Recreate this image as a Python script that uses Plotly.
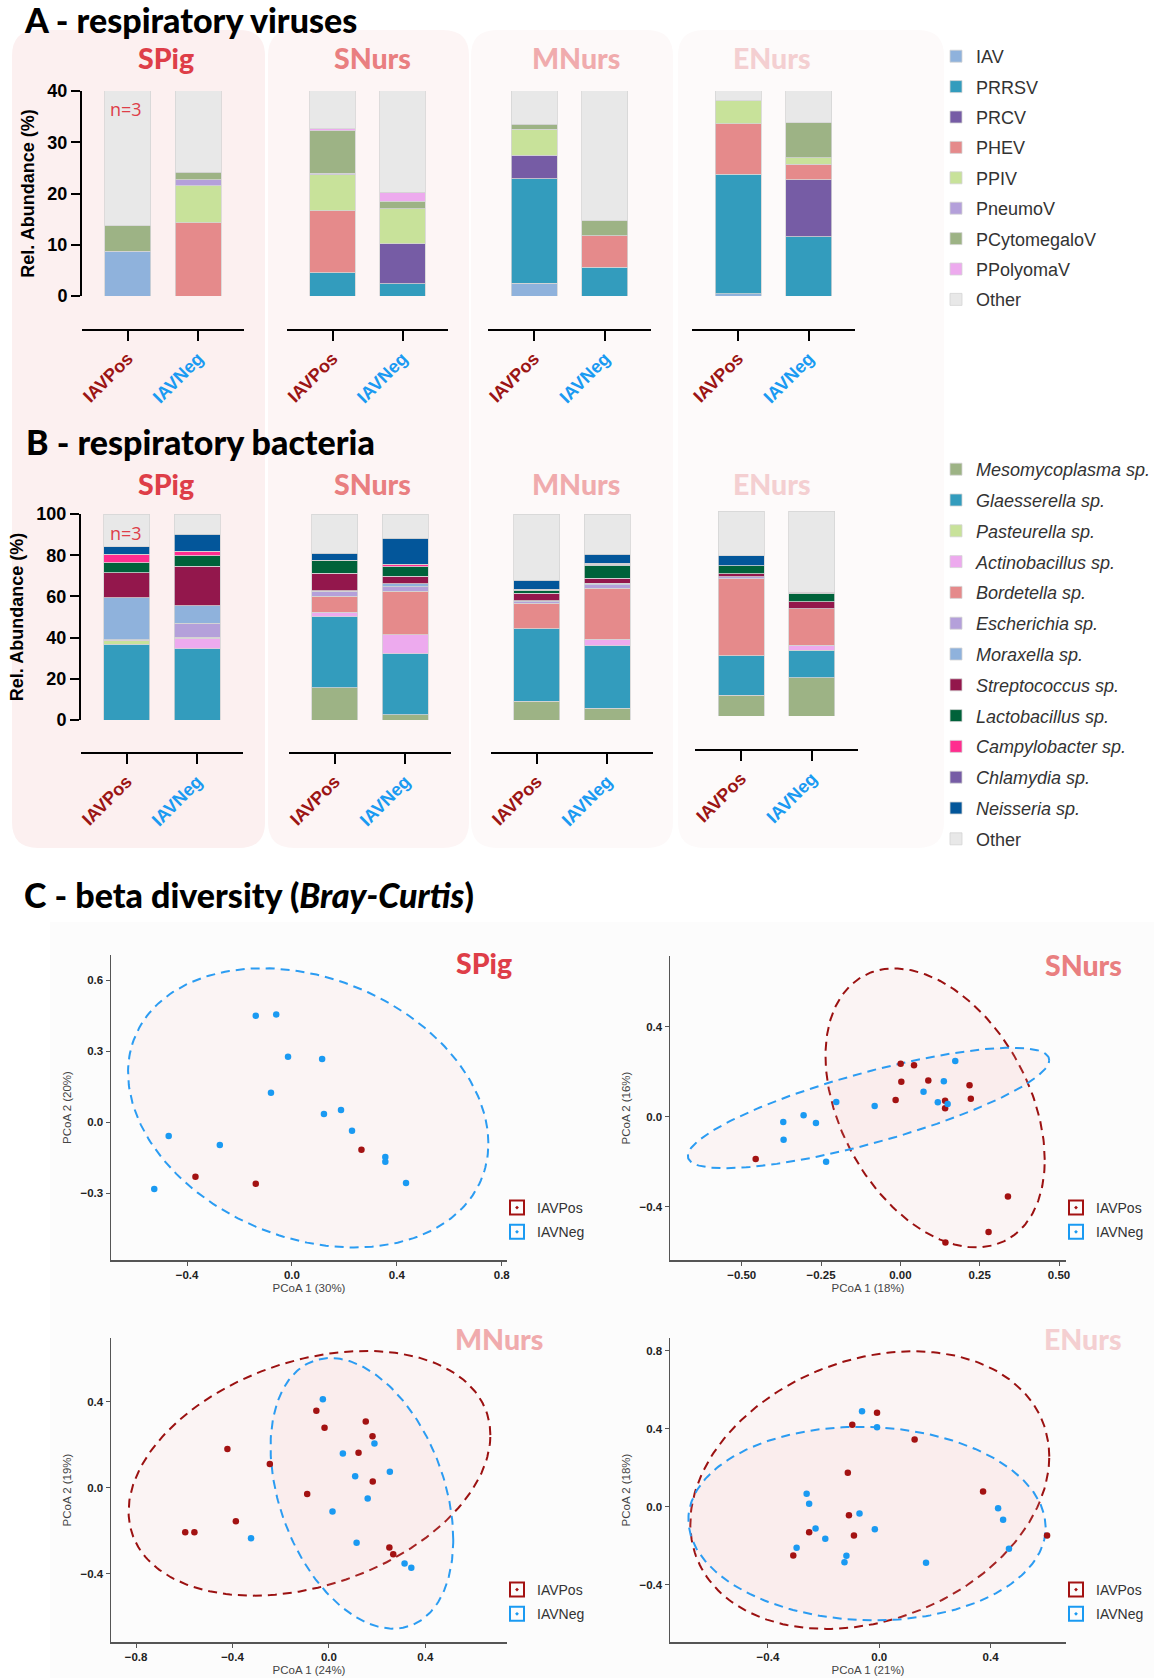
import numpy as np
import plotly.graph_objects as go

W, H = 1154, 1678
ARIAL = "Liberation Sans, Arial, sans-serif"
HEAD = "Lato, Roboto, sans-serif"

groups = ["IAVPos", "IAVNeg"]
sites = ["SPig", "SNurs", "MNurs", "ENurs"]
site_colors = ["#de3e48", "#e97f80", "#f0abad", "#f4cfd1"]
group_colors = ["#9b1414", "#1a9af2"]

# ---- Panel A: respiratory viruses (% rel. abundance)
# bar order: SPig+, SPig-, SNurs+, SNurs-, MNurs+, MNurs-, ENurs+, ENurs-
IAV = [8.7, 0, 0, 0, 2.5, 0, 0.4, 0]
PRRSV = [0, 0, 4.5, 2.4, 20.4, 5.6, 23.4, 11.6]
PRCV = [0, 0, 0, 7.8, 4.6, 0, 0, 11.1]
PHEV = [0, 14.3, 12.1, 0, 0, 6.2, 9.8, 3.0]
PPIV = [0, 7.2, 7.1, 6.8, 5.0, 0, 4.5, 1.3]
PneumoV = [0, 1.2, 0.3, 0, 0, 0, 0, 0]
PCytomegaloV = [5.0, 1.4, 8.2, 1.5, 1.0, 2.9, 0, 6.8]
PPolyomaV = [0, 0, 0.4, 1.7, 0, 0, 0, 0]
virus_names = ["IAV", "PRRSV", "PRCV", "PHEV", "PPIV", "PneumoV",
               "PCytomegaloV", "PPolyomaV", "Other"]
virus_colors = ["#8fb2dc", "#339cbd", "#765ca5", "#e58a8b", "#c8e29a",
                "#b4a0da", "#9db385", "#edaaee", "#e8e8e8"]

# ---- Panel B: respiratory bacteria (% rel. abundance)
Mesomycoplasma = [0, 0, 15.7, 2.6, 9.2, 5.7, 10.2, 18.6]
Glaesserella = [36.8, 34.7, 34.5, 29.5, 35.2, 30.4, 19.1, 13.5]
Pasteurella = [1.6, 0, 0, 0, 0, 0, 0, 0]
Actinobacillus = [0.5, 5.0, 2.2, 9.2, 0, 3.0, 0, 2.3]
Bordetella = [0, 0.5, 7.6, 21.1, 12.3, 24.9, 37.6, 18.0]
Escherichia = [0, 6.8, 2.4, 2.4, 0.8, 1.6, 1.0, 0]
Moraxella = [20.5, 8.4, 0.3, 1.3, 0.5, 0.8, 0, 0]
Streptococcus = [12.2, 19.2, 8.6, 3.6, 3.6, 2.3, 1.5, 3.4]
Lactobacillus = [4.7, 5.1, 6.0, 4.7, 1.3, 6.5, 3.8, 4.2]
Campylobacter = [4.2, 2.0, 0.3, 1.3, 0, 0.5, 0, 0.4]
Chlamydia = [0, 0.3, 0, 0, 0.5, 0.3, 0, 0]
Neisseria = [3.6, 8.1, 3.4, 12.6, 4.4, 4.5, 4.9, 0]
bact_names = ["Mesomycoplasma sp.", "Glaesserella sp.", "Pasteurella sp.",
              "Actinobacillus sp.", "Bordetella sp.", "Escherichia sp.",
              "Moraxella sp.", "Streptococcus sp.", "Lactobacillus sp.",
              "Campylobacter sp.", "Chlamydia sp.", "Neisseria sp.", "Other"]
bact_colors = ["#9db385", "#339cbd", "#c8e29a", "#edaaee", "#e58a8b",
               "#b4a0da", "#8fb2dc", "#93174c", "#00623a", "#ff2d8f",
               "#765ca5", "#03569a", "#e8e8e8"]

# ---- Panel C: PCoA (Bray-Curtis) coordinates
SPig_pos_x = [0.265, -0.368, -0.138]
SPig_pos_y = [-0.117, -0.231, -0.261]
SPig_neg_x = [-0.138, -0.060, -0.015, 0.115, -0.080, 0.122, 0.187, 0.229,
              0.356, 0.356, 0.435, -0.470, -0.275, -0.525]
SPig_neg_y = [0.449, 0.455, 0.276, 0.266, 0.124, 0.034, 0.051, -0.037,
              -0.148, -0.168, -0.258, -0.059, -0.097, -0.283]
SNurs_pos_x = [0.001, 0.043, 0.003, 0.088, 0.218, -0.015, 0.141, 0.141,
               0.222, -0.456, 0.339, 0.278, 0.142]
SNurs_pos_y = [0.235, 0.228, 0.155, 0.160, 0.139, 0.074, 0.071, 0.037,
               0.080, -0.188, -0.354, -0.512, -0.558]
SNurs_neg_x = [0.173, 0.137, 0.073, 0.118, 0.149, -0.081, -0.202, -0.305,
               -0.369, -0.266, -0.368, -0.234]
SNurs_neg_y = [0.247, 0.157, 0.111, 0.064, 0.056, 0.047, 0.065, 0.006,
               -0.024, -0.028, -0.102, -0.200]
MNurs_pos_x = [-0.052, -0.018, 0.153, 0.181, 0.123, -0.421, -0.245, 0.182,
               -0.090, -0.386, -0.596, -0.558, 0.251, 0.267]
MNurs_pos_y = [0.357, 0.278, 0.307, 0.239, 0.162, 0.179, 0.110, 0.028,
               -0.029, -0.156, -0.207, -0.207, -0.278, -0.309]
MNurs_neg_x = [-0.025, 0.058, 0.189, 0.253, 0.109, 0.161, 0.015, -0.323,
               0.115, 0.314, 0.342]
MNurs_neg_y = [0.411, 0.158, 0.205, 0.074, 0.053, -0.051, -0.111, -0.235,
               -0.256, -0.352, -0.372]
ENurs_pos_x = [-0.008, -0.097, 0.127, -0.113, -0.109, -0.091, -0.252, -0.309,
               0.373, 0.603]
ENurs_pos_y = [0.481, 0.419, 0.344, 0.174, -0.044, -0.148, -0.131, -0.251,
               0.077, -0.148]
ENurs_neg_x = [-0.062, -0.008, -0.261, -0.252, -0.071, -0.229, -0.194, -0.016,
               -0.297, -0.118, -0.125, 0.168, 0.427, 0.445, 0.466]
ENurs_neg_y = [0.489, 0.407, 0.066, 0.015, -0.036, -0.112, -0.165, -0.116,
               -0.211, -0.252, -0.285, -0.288, -0.009, -0.068, -0.216]
# confidence ellipses: centre x, centre y, half-width, half-height, tilt
SPig_neg_ell = [0.062, 0.060, 0.687, 0.590, -0.254]
SNurs_pos_ell = [0.1095, 0.039, 0.3455, 0.619, -0.373]
SNurs_neg_ell = [-0.1005, 0.0385, 0.5695, 0.2675, 0.794]
MNurs_pos_ell = [-0.0805, 0.0665, 0.7505, 0.5685, 0.312]
MNurs_neg_ell = [0.137, -0.0265, 0.379, 0.6285, -0.343]
ENurs_pos_ell = [-0.034, 0.0845, 0.645, 0.7115, 0.241]
ENurs_neg_ell = [-0.044, -0.087, 0.642, 0.496, -0.04]
pcoa_x_titles = ["PCoA 1 (30%)", "PCoA 1 (18%)", "PCoA 1 (24%)", "PCoA 1 (21%)"]
pcoa_y_titles = ["PCoA 2 (20%)", "PCoA 2 (16%)", "PCoA 2 (19%)", "PCoA 2 (18%)"]

# ------------------------------------------------------------------
def px(v):
    return v / W


def py(v):
    return 1 - v / H


def xr(i):
    return "x" if i == 1 else f"x{i}"


def yr(i):
    return "y" if i == 1 else f"y{i}"


def xk(i):
    return "xaxis" if i == 1 else f"xaxis{i}"


def yk(i):
    return "yaxis" if i == 1 else f"yaxis{i}"


fig = go.Figure()
layout = {}

virus_series = [IAV, PRRSV, PRCV, PHEV, PPIV, PneumoV, PCytomegaloV, PPolyomaV]
virus_series = virus_series + [[100 - sum(v[i] for v in virus_series) for i in range(8)]]
bact_series = [Mesomycoplasma, Glaesserella, Pasteurella, Actinobacillus, Bordetella,
               Escherichia, Moraxella, Streptococcus, Lactobacillus, Campylobacter,
               Chlamydia, Neisseria]
bact_series = bact_series + [[100 - sum(v[i] for v in bact_series) for i in range(8)]]

ticktext = [f'<span style="color:{c}">{g}</span>' for g, c in zip(groups, group_colors)]

# geometry of bar panels (pixels)
A_x = [(82, 244), (287, 448), (488, 651), (692, 855)]
B_x = [(81, 243), (289, 451), (491, 653), (695, 858)]
A_y = [(91, 296, 330)] * 4
B_y = [(514, 720, 753), (514, 720, 753), (514, 720, 753), (511, 716, 750)]


def add_bar_panel(offset, names, series, colors, legend_id, prefix, xdoms, ydoms, ymax, dtick, italic):
    for s in range(4):
        ax = offset + s + 1
        for name, vals, col in zip(names, series, colors):
            yv = [vals[2 * s], vals[2 * s + 1]]
            yv = [v if v > 0 else None for v in yv]
            label = f"<i>{name}</i>" if (italic and name != "Other") else name
            fig.add_trace(go.Bar(
                x=groups, y=yv, name=label, width=0.65,
                marker=dict(color=col, line=dict(color="#d4d4d4", width=0.8)),
                xaxis=xr(ax), yaxis=yr(ax), legend=legend_id,
                legendgroup=prefix + name, showlegend=(s == 0), hoverinfo="skip"))
        x0, x1 = xdoms[s]
        ytop, ybot, yline = ydoms[s]
        layout[xk(ax)] = dict(
            domain=[px(x0), px(x1)], anchor="free", position=py(yline),
            type="category", categoryorder="array", categoryarray=groups,
            range=[-0.65, 1.65], showline=True, linecolor="black", linewidth=2,
            ticks="outside", ticklen=10, tickwidth=2, tickcolor="black",
            tickmode="array", tickvals=groups, ticktext=ticktext, tickangle=-45,
            tickfont=dict(family=ARIAL, size=18, weight="bold"),
            showgrid=False, zeroline=False, fixedrange=True, automargin=False)
        ya = dict(domain=[py(ybot), py(ytop)], anchor=xr(ax), range=[0, ymax],
                  showgrid=False, zeroline=False, fixedrange=True, automargin=False)
        if s == 0:
            ya.update(showline=True, linecolor="black", linewidth=2, ticks="outside",
                      ticklen=9, tickwidth=2, tickcolor="black",
                      tickvals=list(range(0, ymax + 1, dtick)),
                      tickfont=dict(family=ARIAL, size=18, weight="bold", color="black"),
                      title=dict(text="Rel. Abundance (%)", standoff=8,
                                 font=dict(family=ARIAL, size=18, weight="bold", color="black")))
        else:
            ya.update(visible=False)
        layout[yk(ax)] = ya


add_bar_panel(0, virus_names, virus_series, virus_colors, "legend", "v_", A_x, A_y, 40, 10, False)
add_bar_panel(4, bact_names, bact_series, bact_colors, "legend2", "b_", B_x, B_y, 100, 20, True)

# ---- Panel C scatter plots
C_dom = [((111, 507), (955, 1260)), ((670, 1066), (956, 1260)),
         ((111, 507), (1338, 1642)), ((670, 1066), (1338, 1642))]
C_xrange = [[-0.69, 0.82], [-0.726, 0.522], [-0.904, 0.739], [-0.752, 0.671]]
C_yrange = [[-0.583, 0.706], [-0.636, 0.713], [-0.717, 0.695], [-0.694, 0.864]]
C_xticks = [[-0.4, 0, 0.4, 0.8], [-0.5, -0.25, 0, 0.25, 0.5], [-0.8, -0.4, 0, 0.4], [-0.4, 0, 0.4]]
C_yticks = [[-0.3, 0, 0.3, 0.6], [-0.4, 0, 0.4], [-0.4, 0, 0.4], [-0.4, 0, 0.4, 0.8]]
C_xfmt = [".1f", ".2f", ".1f", ".1f"]
pts = [((SPig_pos_x, SPig_pos_y), (SPig_neg_x, SPig_neg_y)),
       ((SNurs_pos_x, SNurs_pos_y), (SNurs_neg_x, SNurs_neg_y)),
       ((MNurs_pos_x, MNurs_pos_y), (MNurs_neg_x, MNurs_neg_y)),
       ((ENurs_pos_x, ENurs_pos_y), (ENurs_neg_x, ENurs_neg_y))]
ells = [(None, SPig_neg_ell), (SNurs_pos_ell, SNurs_neg_ell),
        (MNurs_pos_ell, MNurs_neg_ell), (ENurs_pos_ell, ENurs_neg_ell)]
ell_line = ["#9b1111", "#2b9cf2"]
pt_col = ["#a31212", "#1a9af2"]
C_leg_pos = [(497, 1192), (1056, 1192), (497, 1574), (1056, 1574)]

t = np.linspace(0, 2 * np.pi, 240)
for s in range(4):
    ax = 9 + s
    lid = f"legend{3 + s}"
    for g in range(2):
        e = ells[s][g]
        if e is None:
            continue
        cx, cy, rx, ry, k = e
        phi = np.arccos(k)
        fig.add_trace(go.Scatter(
            x=cx + rx * np.cos(t), y=cy + ry * np.cos(t - phi), mode="lines",
            fill="toself", fillcolor="rgba(246,178,178,0.11)",
            line=dict(color=ell_line[g], width=2, dash="9px,6px"),
            xaxis=xr(ax), yaxis=yr(ax), showlegend=False, hoverinfo="skip"))
    for g in range(2):
        xs, ys = pts[s][g]
        fig.add_trace(go.Scatter(
            x=xs, y=ys, mode="markers", marker=dict(color=pt_col[g], size=6.5),
            xaxis=xr(ax), yaxis=yr(ax), showlegend=False, hoverinfo="skip"))
    for g in range(2):
        fig.add_trace(go.Scatter(
            x=[None], y=[None], mode="markers", name=groups[g],
            marker=dict(color=pt_col[g], size=14, symbol="square-open-dot",
                        line=dict(color=ell_line[g], width=2)),
            xaxis=xr(ax), yaxis=yr(ax), legend=lid,
            legendgroup=f"c{s}_{groups[g]}", showlegend=True))
    (x0, x1), (y0, y1) = C_dom[s]
    axfont = dict(family=ARIAL, size=11.5, weight="bold", color="#222")
    layout[xk(ax)] = dict(
        domain=[px(x0), px(x1)], anchor=yr(ax), range=C_xrange[s],
        showline=True, linecolor="#555", linewidth=1.5, ticks="outside", ticklen=4,
        tickcolor="#555", tickvals=C_xticks[s], tickformat=C_xfmt[s], tickfont=axfont,
        showgrid=False, zeroline=False, fixedrange=True, automargin=False,
        title=dict(text=pcoa_x_titles[s], standoff=3,
                   font=dict(family=ARIAL, size=11.5, color="#444")))
    layout[yk(ax)] = dict(
        domain=[py(y1), py(y0)], anchor=xr(ax), range=C_yrange[s],
        showline=True, linecolor="#555", linewidth=1.5, ticks="outside", ticklen=4,
        tickcolor="#555", tickvals=C_yticks[s], tickformat=".1f", tickfont=axfont,
        showgrid=False, zeroline=False, fixedrange=True, automargin=False,
        title=dict(text=pcoa_y_titles[s], standoff=6,
                   font=dict(family=ARIAL, size=11.5, color="#444")))
    lx, ly = C_leg_pos[s]
    layout[lid] = dict(x=px(lx), y=py(ly), xanchor="left", yanchor="top",
                       traceorder="grouped", tracegroupgap=3,
                       font=dict(family=ARIAL, size=14, color="#333"),
                       bgcolor="rgba(0,0,0,0)")

layout["legend"] = dict(x=px(936), y=py(38), xanchor="left", yanchor="top",
                        traceorder="grouped", tracegroupgap=4,
                        font=dict(family=ARIAL, size=18, color="#333"),
                        bgcolor="rgba(0,0,0,0)")
layout["legend2"] = dict(x=px(936), y=py(451), xanchor="left", yanchor="top",
                         traceorder="grouped", tracegroupgap=4.4,
                         font=dict(family=ARIAL, size=18, color="#333"),
                         bgcolor="rgba(0,0,0,0)")


# ---- background panels
def rrect(x0, y0, x1, y1, r):
    return (f"M {px(x0 + r)},{py(y0)} L {px(x1 - r)},{py(y0)} Q {px(x1)},{py(y0)} {px(x1)},{py(y0 + r)} "
            f"L {px(x1)},{py(y1 - r)} Q {px(x1)},{py(y1)} {px(x1 - r)},{py(y1)} "
            f"L {px(x0 + r)},{py(y1)} Q {px(x0)},{py(y1)} {px(x0)},{py(y1 - r)} "
            f"L {px(x0)},{py(y0 + r)} Q {px(x0)},{py(y0)} {px(x0 + r)},{py(y0)} Z")


panel_boxes = [(12, 30, 265, 848), (268, 30, 469, 848), (471, 30, 673, 848), (678, 30, 944, 848)]
panel_fill = ["#fcf0f0", "#fdf5f5", "#fdf9f9", "#fdfafa"]
shapes = [dict(type="path", path=rrect(*b, 26), xref="paper", yref="paper",
               fillcolor=c, line=dict(width=0), layer="below")
          for b, c in zip(panel_boxes, panel_fill)]
shapes.append(dict(type="rect", x0=px(50), x1=1, y0=0, y1=py(922), xref="paper", yref="paper",
                   fillcolor="#fcfcfc", line=dict(width=0), layer="below"))

# ---- annotations
ann = []
for text, x, y in [("A - respiratory viruses", 22, 20), ("B - respiratory bacteria", 24, 441),
                   ("C - beta diversity (<i>Bray-Curtis</i>)", 22, 894)]:
    ann.append(dict(text=text, x=px(x), y=py(y), xref="paper", yref="paper",
                    xanchor="left", yanchor="middle", showarrow=False,
                    font=dict(family=HEAD, size=34, weight=900, color="black")))
title_pos = [[(166, 58), (372, 58), (576, 58), (772, 58)],
             [(166, 484), (372, 484), (576, 484), (772, 484)],
             [(484, 963), (1083, 965), (499, 1339), (1083, 1339)]]
for row in title_pos:
    for s, (x, y) in enumerate(row):
        ann.append(dict(text=sites[s], x=px(x), y=py(y), xref="paper", yref="paper",
                        xanchor="center", yanchor="middle", showarrow=False,
                        font=dict(family=HEAD, size=28.5, weight=900, color=site_colors[s])))
for y in (109, 533):
    ann.append(dict(text="n=3", x=px(126), y=py(y), xref="paper", yref="paper",
                    xanchor="center", yanchor="middle", showarrow=False,
                    font=dict(family="Open Sans, sans-serif", size=18, color=site_colors[0])))

layout.update(dict(
    width=W, height=H, autosize=False,
    margin=dict(l=0, r=0, t=0, b=0, pad=0, autoexpand=False),
    paper_bgcolor="white", plot_bgcolor="rgba(0,0,0,0)", barmode="stack",
    bargap=0, hovermode=False, showlegend=True, shapes=shapes, annotations=ann))
fig.update_layout(layout)

fig.write_html("out.html", config={"displayModeBar": False, "staticPlot": True},
               post_script="document.body.style.margin='0';document.body.style.overflow='hidden';")
